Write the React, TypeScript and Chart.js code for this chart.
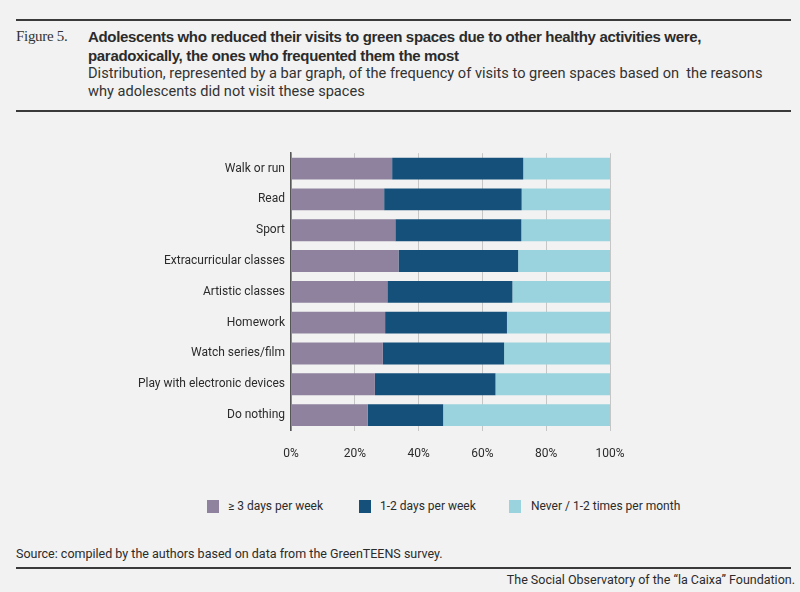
import { useEffect, useRef } from "react"
import { Chart, registerables } from "chart.js"

Chart.register(...registerables)

const categories = [
  "Walk or run",
  "Read",
  "Sport",
  "Extracurricular classes",
  "Artistic classes",
  "Homework",
  "Watch series/film",
  "Play with electronic devices",
  "Do nothing",
]

const seriesNames = ["≥ 3 days per week", "1-2 days per week", "Never / 1-2 times per month"]
const seriesColors = ["#8f829e", "#15507a", "#9ad3de"]

const threeOrMore = [31.7, 29.2, 32.7, 33.7, 30.2, 29.5, 28.8, 26.3, 24.0]
const oneOrTwo = [41.1, 43.1, 39.5, 37.5, 39.2, 38.2, 38.0, 37.8, 23.7]
const rarely = [27.2, 27.7, 27.8, 28.8, 30.6, 32.3, 33.2, 35.9, 52.3]

const tickStep = 20
const tickMax = 100

const textFont = "Roboto, 'Liberation Sans', Arial, sans-serif"

function BarChart() {
  const canvasRef = useRef<HTMLCanvasElement>(null)
  const chartInstance = useRef<Chart | null>(null)

  useEffect(() => {
    if (!canvasRef.current) return
    if (chartInstance.current) chartInstance.current.destroy()

    const ctx = canvasRef.current.getContext("2d")
    if (!ctx) return

    Chart.defaults.font.family = textFont
    Chart.defaults.color = "#2b2b2b"

    const values = [threeOrMore, oneOrTwo, rarely]

    chartInstance.current = new Chart(ctx, {
      type: "bar",
      data: {
        labels: categories,
        datasets: seriesNames.map((name, i) => ({
          label: name,
          data: values[i],
          backgroundColor: seriesColors[i],
          borderWidth: 0,
          barPercentage: 0.71,
          categoryPercentage: 1,
        })),
      },
      options: {
        indexAxis: "y",
        animation: false,
        responsive: false,
        maintainAspectRatio: false,
        layout: { padding: { top: 11, right: 190, left: 0, bottom: 0 } },
        plugins: {
          legend: { display: false },
          tooltip: { enabled: false },
        },
        scales: {
          x: {
            stacked: true,
            min: 0,
            max: tickMax,
            afterFit: (scale) => {
              scale.height = 39.5
            },
            ticks: {
              stepSize: tickStep,
              padding: 16,
              font: { size: 12 },
              callback: (v) => `${v}%`,
            },
            grid: { color: "#c6c6c6", lineWidth: 1, drawTicks: false },
            border: { display: false },
          },
          y: {
            stacked: true,
            afterFit: (scale) => {
              scale.width = 291
            },
            ticks: { padding: 6, font: { size: 12 } },
            grid: { display: false, drawTicks: false },
            border: { display: true, color: "#555555", width: 1.5 },
          },
        },
      },
    })

    return () => {
      if (chartInstance.current) {
        chartInstance.current.destroy()
        chartInstance.current = null
      }
    }
  }, [])

  return <canvas ref={canvasRef} width={800} height={330} style={{ width: 800, height: 330 }} />
}

export default function App() {
  useEffect(() => {
    document.body.style.margin = "0"
    document.body.style.background = "#f2f2f2"
  }, [])

  const rule = (top: number, h: number) => (
    <div style={{ position: "absolute", left: 16, right: 9, top, height: h, background: "#3a3a3a" }} />
  )

  return (
    <div style={{ position: "fixed", left: 0, top: 0, width: 800, height: 592, background: "#f2f2f2", fontFamily: textFont, color: "#2b2b2b", overflow: "hidden" }}>
      {rule(19, 2)}
      <div style={{ position: "absolute", left: 16, top: 28, fontFamily: "'Liberation Serif', serif", fontSize: 15, letterSpacing: -0.3, color: "#333" }}>Figure 5.</div>
      <div style={{ position: "absolute", left: 88, top: 27, width: 710, fontFamily: "'Liberation Sans', Arial, sans-serif", fontWeight: "bold", fontSize: 15, letterSpacing: -0.32, lineHeight: "19px", color: "#2b2b2b" }}>
        Adolescents who reduced their visits to green spaces due to other healthy activities were,
        <br />
        paradoxically, the ones who frequented them the most
      </div>
      <div style={{ position: "absolute", left: 88, top: 64, width: 710, fontSize: 14.6, lineHeight: "18px", color: "#333" }}>
        Distribution, represented by a bar graph, of the frequency of visits to green spaces based on&nbsp; the reasons
        <br />
        why adolescents did not visit these spaces
      </div>
      {rule(110, 2)}

      <div style={{ position: "absolute", left: 0, top: 140, width: 800, height: 330 }}>
        <BarChart />
      </div>

      {seriesNames.map((name, i) => (
        <div key={name} style={{ position: "absolute", top: 499, left: [207, 359, 509][i], display: "flex", alignItems: "center", fontSize: 12 }}>
          <span style={{ display: "inline-block", width: 12, height: 13, background: seriesColors[i], marginRight: [9, 9, 10][i] }} />
          <span>{name}</span>
        </div>
      ))}

      <div style={{ position: "absolute", left: 16, top: 546, fontSize: 12.5 }}>
        Source: compiled by the authors based on data from the GreenTEENS survey.
      </div>
      {rule(567, 2)}
      <div style={{ position: "absolute", right: 5, top: 572, fontSize: 12.5 }}>
        The Social Observatory of the “la Caixa” Foundation.
      </div>
    </div>
  )
}
